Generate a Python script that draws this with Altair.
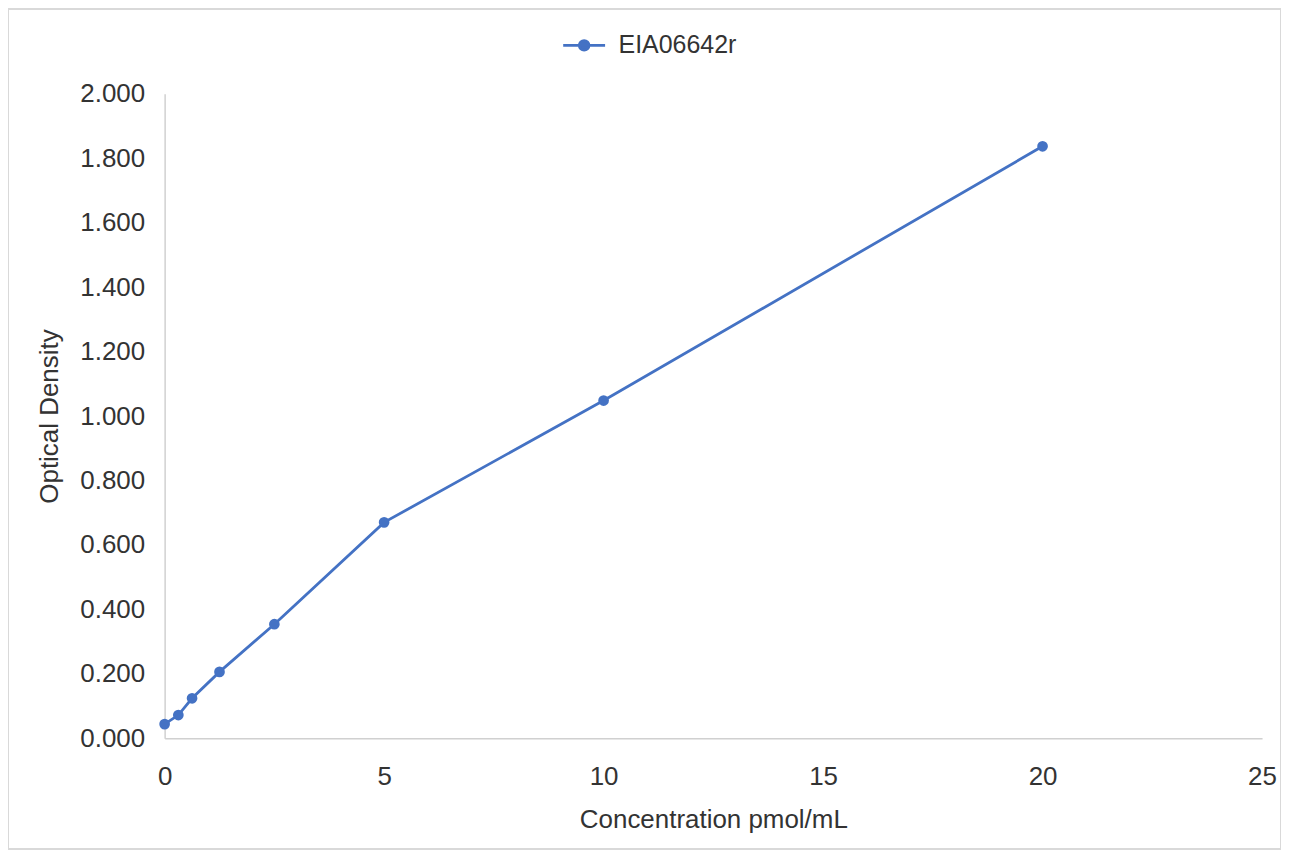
import altair as alt
import pandas as pd

concentration = [0, 0.3125, 0.625, 1.25, 2.5, 5, 10, 20]
optical_density = [0.044, 0.072, 0.124, 0.206, 0.354, 0.670, 1.048, 1.837]
series_name = "EIA06642r"
x_ticks = [0, 5, 10, 15, 20, 25]
y_ticks = [0.0, 0.2, 0.4, 0.6, 0.8, 1.0, 1.2, 1.4, 1.6, 1.8, 2.0]

df = pd.DataFrame({
    "conc": concentration,
    "od": optical_density,
    "series": [series_name] * len(concentration),
})

BLUE = "#4472C4"
FONT = "Liberation Sans"
TXT = "#333333"
PW, PH = 1100, 646
PAD = {"left": 157, "top": 85, "right": 19, "bottom": 111}

sym_path = "M-1,0L1,0M0.23,0A0.23,0.23,0,1,1,-0.23,0A0.23,0.23,0,1,1,0.23,0Z"

line = alt.Chart(df).mark_line(
    strokeWidth=2.8,
    point=alt.OverlayMarkDef(filled=True, size=115, color=BLUE),
).encode(
    x=alt.X("conc:Q",
            scale=alt.Scale(domain=[0, 25], nice=False, zero=False),
            axis=alt.Axis(values=x_ticks, title="Concentration pmol/mL",
                          format="d", labelFlush=False, labelPadding=25,
                          titlePadding=17)),
    y=alt.Y("od:Q",
            scale=alt.Scale(domain=[0, 2], nice=False),
            axis=alt.Axis(values=y_ticks, title="Optical Density",
                          format=".3f", labelPadding=20, titlePadding=17)),
    color=alt.Color("series:N",
                    scale=alt.Scale(range=[BLUE]),
                    legend=alt.Legend(
                        title=None, orient="none", legendX=398, legendY=-71,
                        padding=0, symbolType=sym_path, symbolSize=1764,
                        symbolStrokeWidth=2.8, symbolStrokeColor=BLUE,
                        symbolFillColor=BLUE, labelOffset=12,
                        labelFontSize=25, labelFont=FONT, labelColor=TXT)),
)

frame = alt.Chart(df).mark_rect(
    fill=None, stroke="#d9d9d9", strokeWidth=1.5
).encode(
    x=alt.value(-PAD["left"]), x2=alt.value(PW + PAD["right"]),
    y=alt.value(-PAD["top"]), y2=alt.value(PH + PAD["bottom"]),
)

chart = alt.layer(frame, line).properties(
    width=PW, height=PH,
    autosize=alt.AutoSizeParams(type="none"),
    padding=PAD,
    background="white",
).configure_view(stroke=None).configure_axis(
    grid=False, ticks=False,
    domainColor="#d0d0d0", domainWidth=1.5,
    labelFont=FONT, labelFontSize=26, labelColor=TXT,
    titleFont=FONT, titleFontSize=26, titleColor=TXT, titleFontWeight="normal",
)

chart.save("out.html", embed_options={"renderer": "svg", "actions": False})
